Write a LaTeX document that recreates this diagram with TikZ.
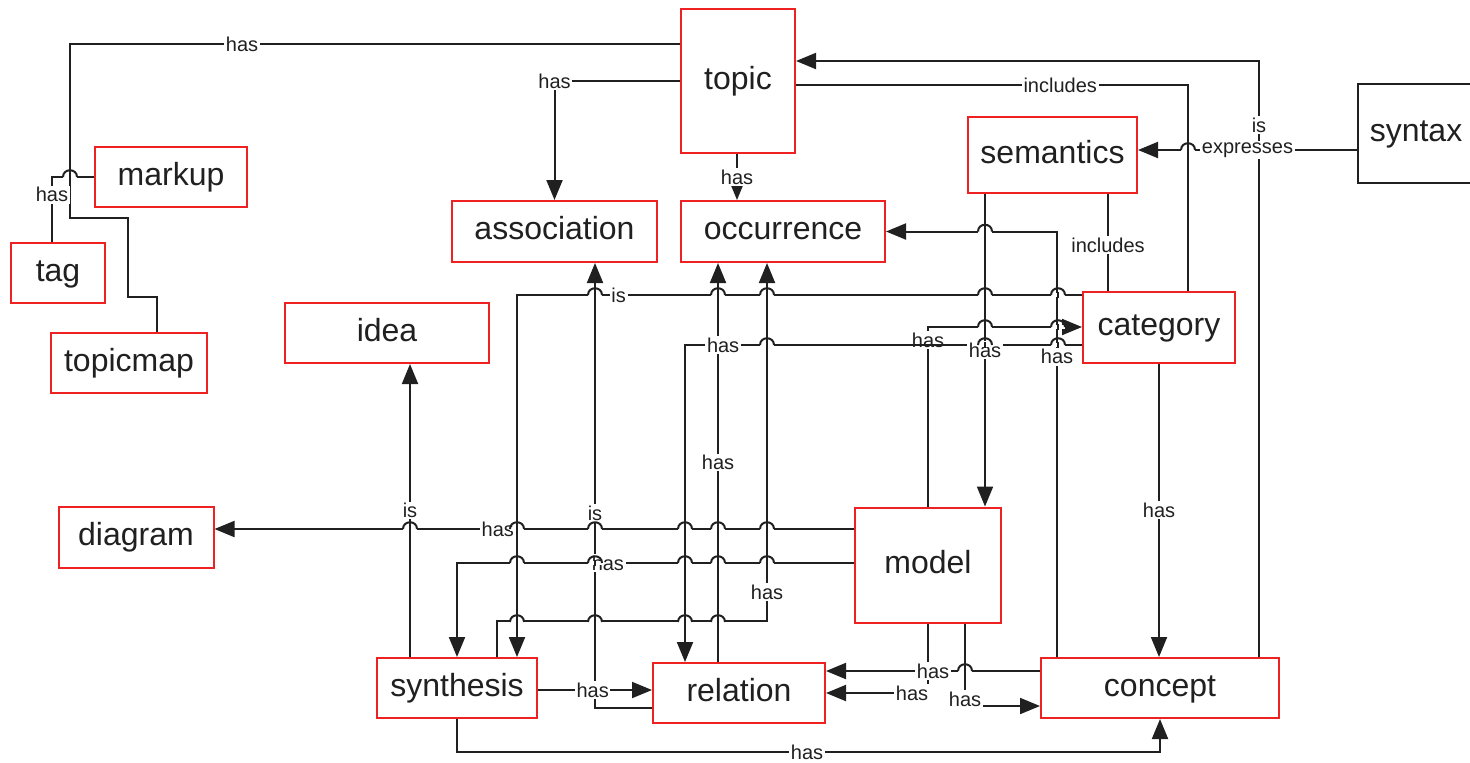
\documentclass[tikz,border=0pt]{standalone}
\usepackage{fontspec}
\setmainfont{Liberation Sans}
\usetikzlibrary{arrows.meta,calc}
\definecolor{boxred}{RGB}{238,34,34}
\definecolor{ink}{RGB}{32,32,32}

\tikzset{
  box/.style={draw=boxred, line width=1pt, fill=white, inner sep=0pt, text=ink,
              text height=11.5pt, text depth=3.4pt,
              font=\fontsize{16}{19}\selectfont},
  plainbox/.style={box, draw=ink},
  sz/.style 2 args={minimum width=#1*0.5pt, minimum height=#2*0.5pt},
  conn/.style={draw=ink, line width=1pt},
  arr/.style={-{Triangle[length=10pt,width=8pt]}},
  lbl/.style={fill=white, inner sep=0.8pt, text=ink, font=\fontsize{10}{12}\selectfont},
}

% bridge where a horizontal connector jumps over a vertical one
\newcommand\hopat[2]{%
  \fill[white] ({#1-7},{#2-1.9}) rectangle ({#1+7},{#2+1.9});
  \draw[conn] (#1,{#2-3}) -- (#1,{#2+3});
  \draw[conn] ({#1-7},#2) .. controls ({#1-7},{#2-9}) and ({#1+7},{#2-9}) .. ({#1+7},#2);
}

\begin{document}
\begin{tikzpicture}[x=0.5pt,y=-0.5pt]
\useasboundingbox (0,0) rectangle (1470,762);
\fill[white] (0,0) rectangle (1470,762);
\clip (0,0) rectangle (1470,762);

% concepts
\node[box, sz={114}{144}] (topic)       at (738,81)    {topic};
\node[box, sz={205}{61}]  (association) at (554.5,231.5) {association};
\node[box, sz={204}{61}]  (occurrence)  at (783,231.5) {occurrence};
\node[box, sz={169}{76}]  (semantics)   at (1052.5,155) {semantics};
\node[plainbox, sz={116}{99}] (syntax)  at (1416,133.5) {syntax};
\node[box, sz={152}{60}]  (markup)      at (171,177)   {markup};
\node[box, sz={94}{60}]   (tag)         at (58,273)    {tag};
\node[box, sz={156}{60}]  (topicmap)    at (129,363)   {topicmap};
\node[box, sz={204}{60}]  (idea)        at (387,333)   {idea};
\node[box, sz={152}{71}]  (category)    at (1159,327)  {category};
\node[box, sz={155}{61}]  (diagram)     at (136,537.5) {diagram};
\node[box, sz={146}{115}] (model)       at (928,565)   {model};
\node[box, sz={160}{60}]  (synthesis)   at (457,688)   {synthesis};
\node[box, sz={172}{60}]  (relation)    at (739,693)   {relation};
\node[box, sz={238}{60}]  (concept)     at (1160,688)  {concept};

% start points of straight vertical connectors
\coordinate (semfoot) at ($(semantics.south)+(-67.5,0)$);
\coordinate (relhead) at ($(relation.north)+(-21,0)$);
\coordinate (synidea) at ($(synthesis.north)+(-47,0)$);
\coordinate (semcat)  at ($(semantics.south)+(55.5,0)$);

% relations
\draw[conn] ($(topic.west)+(0,-37)$) -| (70,218) node[lbl,pos=0.359]{has}
  -| (128,297) -| ($(topicmap.north)+(28,0)$);
\draw[conn] (markup.west) -| ($(tag.north)+(-6,0)$) node[lbl,pos=0.636]{has};
\draw[conn,arr] (topic.west) -| (association.north) node[lbl,pos=0.5]{has};
\draw[conn,arr] ($(topic.south)+(-1,0)$) -- ($(occurrence.north)+(-46,0)$) node[lbl,midway]{has};
\draw[conn,arr] ($(concept.north)+(99,0)$) |- ($(topic.east)+(0,-20)$) node[lbl,pos=0.446]{is};
\draw[conn] ($(topic.east)+(0,4)$) -| ($(category.north)+(29,0)$) node[lbl,pos=0.337]{includes};
\draw[conn,arr] ($(syntax.west)+(0,16.5)$) -- ($(semantics.east)+(0,-5)$) node[lbl,midway]{expresses};
\draw[conn] (semcat) -- (semcat |- category.north) node[lbl,pos=0.53]{includes};
\draw[conn,arr] (relhead) -- (relhead |- occurrence.south) node[lbl,midway]{has};
\draw[conn,arr] (model.north) |- (category.west) node[lbl,pos=0.464]{has};
\draw[conn,arr] ($(category.west)+(0,18)$) -| ($(relation.north)+(-54,0)$) node[lbl,pos=0.452]{has};
\draw[conn,arr] (semfoot) -- (semfoot |- model.north) node[lbl,midway]{has};
\draw[conn,arr] ($(concept.north west)+(17,0)$) |- (occurrence.east) node[lbl,pos=0.353]{has};
\draw[conn,arr] ($(category.west)+(0,-32)$) -| ($(synthesis.north)+(60,0)$) node[lbl,pos=0.41]{is};
\draw[conn,arr] ($(synthesis.north)+(40,0)$) -- ++(0,-36) -| ($(occurrence.south)+(-16,0)$) node[lbl,pos=0.54]{has};
\draw[conn,arr] ($(relation.west)+(0,15)$) -| ($(association.south)+(40.5,0)$) node[lbl,pos=0.719]{is};
\draw[conn,arr] (synidea) -- (synidea |- idea.south) node[lbl,midway]{is};
\draw[conn,arr] ($(model.west)+(0,-36)$) -- ($(diagram.east)+(0,-8.5)$) node[lbl,pos=0.557]{has};
\draw[conn,arr] ($(model.west)+(0,-2)$) -| (synthesis.north) node[lbl,pos=0.31]{has};
\draw[conn,arr] ($(synthesis.east)+(0,2)$) -- ($(relation.west)+(0,-3)$) node[lbl,pos=0.48]{has};
\draw[conn,arr] (synthesis.south) -- ++(0,33) -| (concept.south) node[lbl,pos=0.249,inner ysep=0.3pt]{has};
\draw[conn,arr] (category.south) -- ($(concept.north)+(-1,0)$) node[lbl,midway]{has};
\draw[conn,arr] (model.south) |- (relation.east) node[lbl,pos=0.578]{has};
\draw[conn,arr] ($(concept.west)+(0,-17)$) -- ($(relation.east)+(0,-22)$) node[lbl,midway]{has};
\draw[conn,arr] ($(model.south)+(37,0)$) |- ($(concept.west)+(0,18)$) node[lbl,pos=0.458]{has};

% line jumps
\hopat{70}{177}
\hopat{1188}{150}
\hopat{985}{231.5}
\foreach \x in {1058,985,767,718,595} {\hopat{\x}{295}}
\foreach \x in {985,1058} {\hopat{\x}{327}}
\foreach \x in {1058,985,767} {\hopat{\x}{345}}
\foreach \x in {767,718,685,595,517,410} {\hopat{\x}{529}}
\foreach \x in {767,718,685,595,517} {\hopat{\x}{563}}
\foreach \x in {517,595,685,718} {\hopat{\x}{622}}
\hopat{965}{671}
\end{tikzpicture}
\end{document}
